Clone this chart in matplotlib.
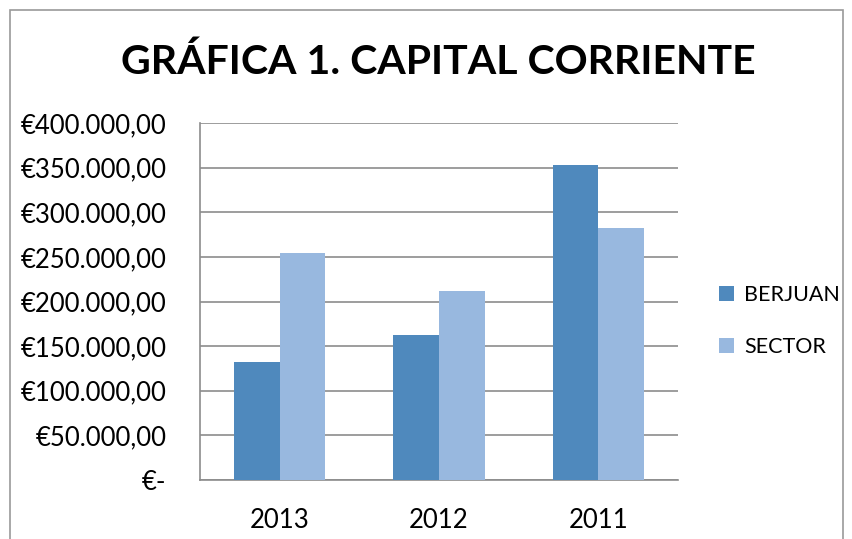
import matplotlib.pyplot as plt
import numpy as np
from matplotlib.patches import Rectangle

# data
years = ["2013", "2012", "2011"]
berjuan = [132000, 163000, 353000]
sector = [254000, 212000, 282000]
yticks = [0, 50000, 100000, 150000, 200000, 250000, 300000, 350000, 400000]


def euro(v):
    if v == 0:
        return "€-"
    s = "{:,.2f}".format(v)
    s = s.replace(",", "X").replace(".", ",").replace("X", ".")
    return "€" + s


plt.rcParams['font.family'] = ['Lato', 'DejaVu Sans']

W, H = 853, 539
fig = plt.figure(figsize=(W / 100, H / 100), dpi=100)
ax = fig.add_axes([200 / W, 1 - 480 / H, 478 / W, 357 / H])

x = np.arange(len(years))
bw = 0.286
ax.bar(x - bw / 2, berjuan, bw, color="#4F89BD", label="BERJUAN", zorder=3)
ax.bar(x + bw / 2, sector, bw, color="#98B8DF", label="SECTOR", zorder=3)

ax.set_xlim(-0.5, 2.5)
ax.set_ylim(0, 400000)
ax.set_yticks(yticks)
ax.set_yticklabels([euro(v) for v in yticks], fontsize=18.5)
ax.set_xticks(x)
ax.set_xticklabels(years, fontsize=18.5)
ax.tick_params(axis='y', length=0, pad=24)
ax.tick_params(axis='x', length=0, pad=20)
ax.grid(axis='y', color="#8c8c8c", linewidth=1.2, zorder=0)
for s in ['top', 'right']:
    ax.spines[s].set_visible(False)
ax.spines['left'].set_color("#8c8c8c")
ax.spines['bottom'].set_color("#8c8c8c")
ax.spines['left'].set_linewidth(1.2)
ax.spines['bottom'].set_linewidth(1.2)

fig.text(438 / W, 1 - 62 / H, "GRÁFICA 1. CAPITAL CORRIENTE", fontsize=29.5,
         fontweight='bold', ha='center', va='center')

leg = fig.legend(loc='center left', bbox_to_anchor=(700 / W, 1 - 321 / H),
                 frameon=False, fontsize=15.5, handlelength=0.7, handleheight=0.7,
                 handletextpad=0.45, labelspacing=1.45)

# chart border
fig.patches.append(Rectangle((10 / W, -0.05), 833 / W, 1 - 10 / H + 0.05,
                             transform=fig.transFigure, fill=False,
                             edgecolor="#9a9a9a", linewidth=1.2))

fig.savefig("out.png", dpi=100)
